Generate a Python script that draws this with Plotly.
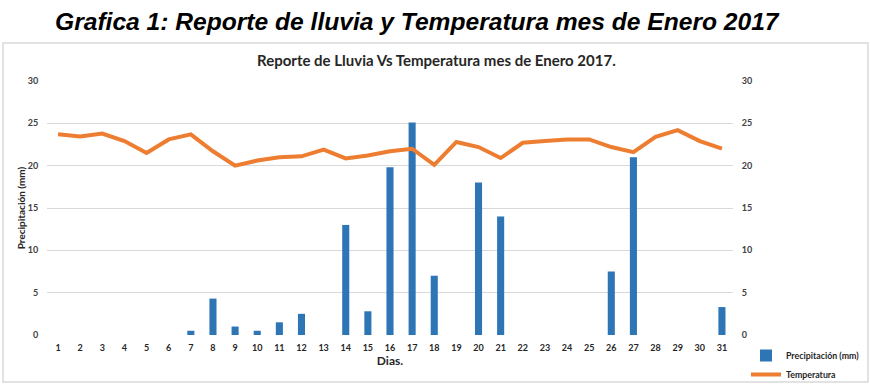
import plotly.graph_objects as go

dias = list(range(1, 32))
precipitacion = [0, 0, 0, 0, 0, 0, 0.5, 4.3, 1.0, 0.5, 1.5, 2.5, 0, 13.0, 2.8, 19.8,
                 25.1, 7.0, 0, 18.0, 14.0, 0, 0, 0, 0, 7.5, 21.0, 0, 0, 0, 3.3]
temperatura = [23.7, 23.45, 23.8, 22.9, 21.5, 23.1, 23.7, 21.7, 20.0, 20.6, 21.0,
               21.1, 21.9, 20.85, 21.2, 21.7, 22.0, 20.1, 22.8, 22.2, 20.9, 22.7,
               22.9, 23.1, 23.1, 22.2, 21.6, 23.4, 24.2, 22.9, 22.0]
y_ticks = [0, 5, 10, 15, 20, 25, 30]

W, H = 870, 384
L, R, T, B = 47, 733, 81, 335

def px_x(x):
    return (x - L) / (R - L)

def px_y(y):
    return (B - y) / (B - T)

FONT = "Lato"
fig = go.Figure()
fig.add_trace(go.Bar(x=[str(d) for d in dias], y=precipitacion, name="Precipitación (mm)",
                     marker=dict(color="#2E75B6", line=dict(width=0)), width=0.32))
fig.add_trace(go.Scatter(x=[str(d) for d in dias], y=temperatura, name="Temperatura",
                         mode="lines", line=dict(color="#ED7D31", width=4), yaxis="y2"))

axis_common = dict(range=[0, 30], tickvals=y_ticks, showline=False, zeroline=False,
                   tickfont=dict(family=FONT, size=9, color="#404040", weight="bold"),
                   ticks="outside", ticklen=6, tickcolor="rgba(0,0,0,0)")
fig.update_layout(
    width=W, height=H,
    margin=dict(l=L, r=W - R, t=T, b=H - B, autoexpand=False),
    paper_bgcolor="white", plot_bgcolor="white",
    showlegend=True,
    legend=dict(x=px_x(746), y=px_y(341), xanchor="left", yanchor="top",
                font=dict(family=FONT, size=8.8, color="#262626", weight="bold"),
                bgcolor="rgba(0,0,0,0)", tracegroupgap=0, itemwidth=30),
    xaxis=dict(type="category", showgrid=False, showline=False,
               ticks="outside", ticklen=4, tickcolor="rgba(0,0,0,0)",
               tickfont=dict(family=FONT, size=9, color="#262626", weight="bold"),
               title=dict(text="<b>Dias.</b>", font=dict(family=FONT, size=12, color="#262626"),
                          standoff=3)),
    yaxis=dict(**axis_common, showgrid=True, gridcolor="#d9d9d9", gridwidth=1,
               title=dict(text="<b>Precipitación (mm)</b>",
                          font=dict(family=FONT, size=10, color="#262626"), standoff=0)),
    yaxis2=dict(**axis_common, overlaying="y", side="right", showgrid=False),
    shapes=[dict(type="rect", xref="paper", yref="paper",
                 x0=px_x(3), x1=px_x(868), y0=px_y(43), y1=px_y(382),
                 line=dict(color="#d9d9d9", width=1.5), fillcolor="rgba(0,0,0,0)", layer="below")],
    annotations=[
        dict(text="<b><i>Grafica 1: Reporte de lluvia y Temperatura mes de Enero 2017</i></b>",
             xref="paper", yref="paper", x=px_x(417), y=px_y(22), showarrow=False,
             xanchor="center", yanchor="middle",
             font=dict(family="Liberation Sans", size=24.6, color="black")),
        dict(text="<b>Reporte de Lluvia Vs Temperatura mes de Enero 2017.</b>",
             xref="paper", yref="paper", x=px_x(436), y=px_y(60), showarrow=False,
             xanchor="center", yanchor="middle",
             font=dict(family=FONT, size=15, color="#262626")),
    ],
)

fig.write_html("out.html", config={"displayModeBar": False},
               post_script="document.body.style.margin='0';document.body.style.overflow='hidden';")
